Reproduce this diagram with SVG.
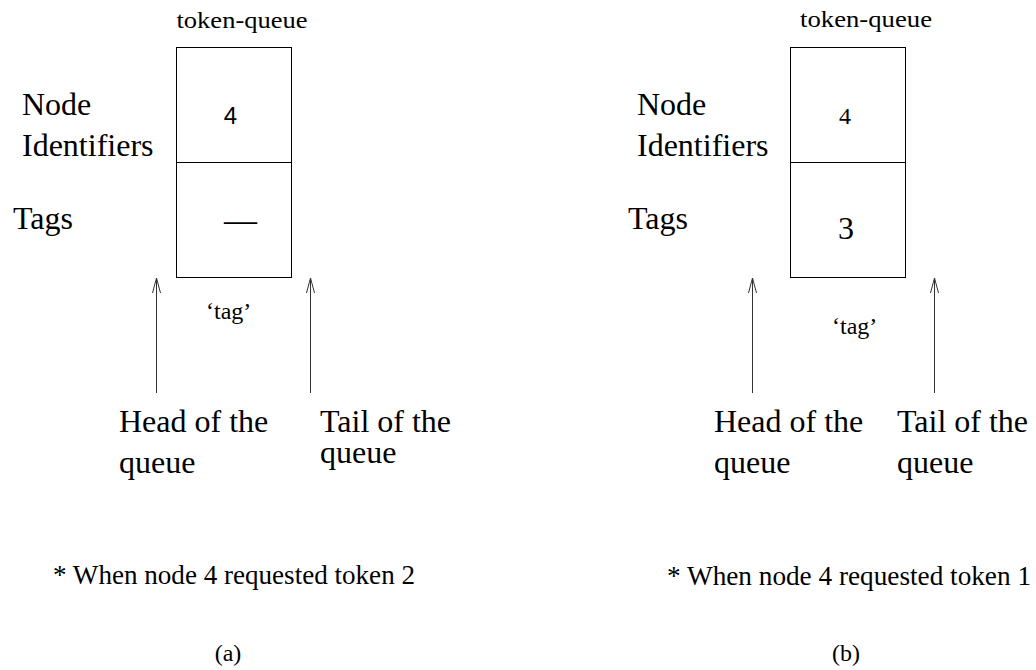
<svg xmlns="http://www.w3.org/2000/svg" width="1036" height="670" viewBox="0 0 1036 670">
  <defs>
    <style>
      text { font-family: "Liberation Serif", "Times New Roman", serif; fill: #000; }
      .big { font-size: 32px; }
      .mid { font-size: 24px; }
      .note { font-size: 27px; }
      .sans { font-family: "Liberation Sans", Arial, sans-serif; }
      .cell { fill: #fff; stroke: #000; stroke-width: 1; }
      .arrow { fill: none; stroke: #333; stroke-width: 1; }
    </style>
  </defs>
  <rect width="1036" height="670" fill="#fff"/>

  <!-- (a) queue state: head node 4, no tag yet -->
  <g id="queue-a">
    <text class="mid" x="176.5" y="28" textLength="131" lengthAdjust="spacingAndGlyphs">token-queue</text>
    <g id="queue-a-ids">
      <rect class="cell" x="176.5" y="47.5" width="115" height="115"/>
      <text class="mid sans" x="230.5" y="124" text-anchor="middle">4</text>
    </g>
    <g id="queue-a-tags">
      <rect class="cell" x="176.5" y="162.5" width="115" height="115"/>
      <text x="224" y="231" style="font-size:33px">—</text>
    </g>
    <text class="big" x="22" y="115">Node</text>
    <text class="big" x="22" y="156">Identifiers</text>
    <text class="big" x="13" y="229">Tags</text>
    <text class="mid" x="206" y="319">‘tag’</text>
    <text class="big" x="119" y="432">Head of the</text>
    <text class="big" x="119" y="473">queue</text>
    <text class="big" x="320" y="432">Tail of the</text>
    <text class="big" x="320" y="463">queue</text>
    <text class="note" x="53" y="584" textLength="362" lengthAdjust="spacingAndGlyphs">* When node 4 requested token 2</text>
    <text class="mid" x="228" y="661" text-anchor="middle">(a)</text>
  </g>

  <!-- (b) queue state: head node 4 tagged with 3 -->
  <g id="queue-b">
    <text class="mid" x="800" y="27" textLength="132" lengthAdjust="spacingAndGlyphs">token-queue</text>
    <g id="queue-b-ids">
      <rect class="cell" x="790.5" y="47.5" width="115" height="115"/>
      <text class="mid" x="845" y="124" text-anchor="middle">4</text>
    </g>
    <g id="queue-b-tags">
      <rect class="cell" x="790.5" y="162.5" width="115" height="115"/>
      <text class="big" x="846" y="239" text-anchor="middle">3</text>
    </g>
    <text class="big" x="637" y="115">Node</text>
    <text class="big" x="637" y="156">Identifiers</text>
    <text class="big" x="628" y="229">Tags</text>
    <text class="mid" x="832" y="334">‘tag’</text>
    <text class="big" x="714" y="432">Head of the</text>
    <text class="big" x="714" y="473">queue</text>
    <text class="big" x="897" y="432">Tail of the</text>
    <text class="big" x="897" y="473">queue</text>
    <text class="note" x="667" y="585" textLength="364" lengthAdjust="spacingAndGlyphs">* When node 4 requested token 1</text>
    <text class="mid" x="846" y="661" text-anchor="middle">(b)</text>
  </g>

  <!-- head / tail pointers -->
  <g id="connectors">
    <path class="arrow" d="M156.5 393 V278 M152.5 293 L156.5 278 L160.5 293"/>
    <path class="arrow" d="M310.5 393 V278 M306.5 293 L310.5 278 L314.5 293"/>
    <path class="arrow" d="M752.5 393 V278 M748.5 293 L752.5 278 L756.5 293"/>
    <path class="arrow" d="M934.5 393 V278 M930.5 293 L934.5 278 L938.5 293"/>
  </g>
</svg>
